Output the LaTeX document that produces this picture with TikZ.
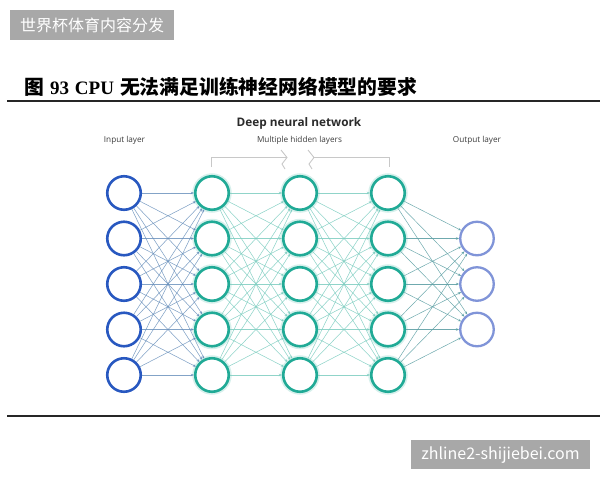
\documentclass[tikz,border=0pt]{standalone}
\usepackage{fontspec}
\setmainfont{Liberation Serif}
\newfontfamily\cjk{Noto Sans CJK SC}
\newfontfamily\lblfont{Open Sans}
\usetikzlibrary{arrows.meta}
\definecolor{inblue}{RGB}{40,88,192}
\definecolor{hidteal}{RGB}{32,170,150}
\definecolor{outblue}{RGB}{128,148,216}
\definecolor{eonecol}{RGB}{100,140,185}
\definecolor{ehidcol}{RGB}{125,205,192}
\definecolor{eoutcol}{RGB}{95,160,165}
\definecolor{wmgray}{RGB}{168,168,168}
\definecolor{brkgray}{RGB}{200,200,200}
\definecolor{txtdark}{RGB}{43,43,43}
\definecolor{txtmid}{RGB}{60,60,60}
\begin{document}
\begin{tikzpicture}[x=1pt,y=-1pt,
  neuron/.style={circle,draw,minimum size=33.5pt,inner sep=0pt,line width=2.6pt,fill=white},
  inp/.style={neuron,draw=inblue},
  hid/.style={neuron,draw=hidteal},
  outn/.style={neuron,draw=outblue,line width=2.3pt},
  halo/.style={circle,draw=hidteal!18,line width=6pt,minimum size=33.5pt,inner sep=0pt},
  edgeline/.style={line width=0.55pt,-{Stealth[length=3.2pt,width=2.6pt]}},
  eone/.style={edgeline,draw=eonecol,opacity=0.8},
  ehid/.style={edgeline,draw=ehidcol,opacity=0.85},
  eout/.style={edgeline,draw=eoutcol,line width=0.5pt,opacity=0.9},
  brk/.style={draw=brkgray,line width=0.9pt},
  small/.style={font=\lblfont\fontsize{8.2}{9}\selectfont,text=txtmid},
  rulefig/.style={line width=1.4pt,draw=black!85}
]
\useasboundingbox (0,0) rectangle (600,480);
% watermarks
\fill[wmgray] (10,10) rectangle (174,40);
\node[font=\cjk\fontsize{16}{16}\selectfont,text=white,inner sep=0pt] (wmtop) at (92,25) {世界杯体育内容分发};
\fill[wmgray] (411,440) rectangle (590,469);
\node[font=\cjk\fontsize{16}{16}\selectfont,text=white,inner sep=0pt] (wmbot) at (500.5,455) {zhline2-shijiebei.com};
% title and rules
\node[anchor=west,inner sep=0pt,font=\fontsize{19}{19}\selectfont] (title) at (24,87)
  {{\cjk\bfseries\fontsize{19.8}{20}\selectfont 图}\hspace{6pt}{\bfseries 93}\hspace{6pt}{\bfseries CPU}\hspace{6pt}{\cjk\bfseries\fontsize{19.8}{20}\selectfont 无法满足训练神经网络模型的要求}};
\coordinate (r1a) at (7,101); \coordinate (r1b) at (600,101);
\coordinate (r2a) at (7,416); \coordinate (r2b) at (600,416);
\draw[rulefig] (r1a) -- (r1b);
\draw[rulefig] (r2a) -- (r2b);
% labels
\node[font=\lblfont\bfseries\fontsize{11.8}{13}\selectfont,text=txtdark] (dnn) at (299,123) {Deep neural network};
\node[small] (lin) at (124.5,140.5) {Input layer};
\node[small] (lhid) at (299.5,140.5) {Multiple hidden layers};
\node[small] (lout) at (477,140.5) {Output layer};
% bracket
\draw[brk] (211,167) -- (211,157.5) -- (286,157.5);
\draw[brk] (281,150) -- (287,157.5) -- (282,164) -- (285,169);
\draw[brk] (308,150) -- (314,157.5) -- (309,164) -- (312,169);
\draw[brk] (313,157.5) -- (389,157.5) -- (389,167);
% halos
\foreach \k/\y in {1/193,2/238.5,3/284,4/329.5,5/375}{
  \node[halo] (ha\k) at (212,\y) {};
  \node[halo] (hb\k) at (300,\y) {};
  \node[halo] (hc\k) at (388,\y) {};
}
% neurons
\foreach \k/\y in {1/193,2/238.5,3/284,4/329.5,5/375}{
  \node[inp] (i\k) at (124,\y) {};
  \node[hid] (a\k) at (212,\y) {};
  \node[hid] (b\k) at (300,\y) {};
  \node[hid] (c\k) at (388,\y) {};
}
\foreach \k/\y in {1/238.5,2/284,3/329.5}{
  \node[outn] (o\k) at (477,\y) {};
}
% connections
\foreach \s in {1,...,5}{
  \foreach \t in {1,...,5}{
    \draw[eone] (i\s) -- (a\t);
    \draw[ehid] (a\s) -- (b\t);
    \draw[ehid] (b\s) -- (c\t);
  }
  \foreach \t in {1,2,3}{
    \draw[eout] (c\s) -- (o\t);
  }
}
\end{tikzpicture}
\end{document}
